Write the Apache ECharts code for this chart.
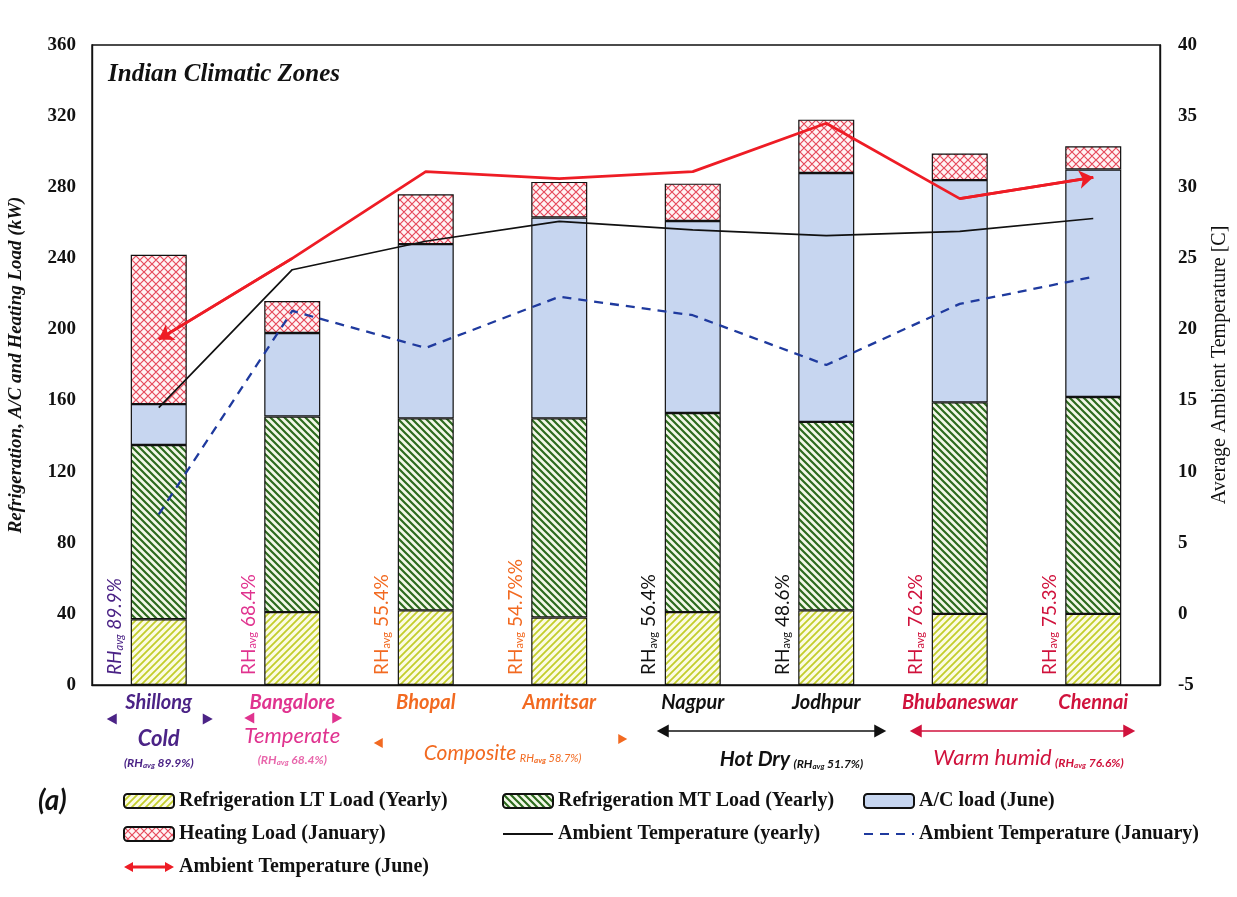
<!DOCTYPE html>
<html>
<head>
<meta charset="utf-8">
<title>Indian Climatic Zones – loads and ambient temperature</title>
<script src="https://cdn.jsdelivr.net/npm/echarts@6/dist/echarts.min.js"></script>
<style>
  html, body { margin: 0; padding: 0; background: #ffffff; }
  #chart { width: 1237px; height: 897px; }
</style>
</head>
<body>
<div id="chart"></div>
<script>
// ---- data ----
const cities = ['Shillong', 'Bangalore', 'Bhopal', 'Amritsar', 'Nagpur', 'Jodhpur', 'Bhubaneswar', 'Chennai'];
const cityColors = ['#4b2386', '#e0338f', '#f26a21', '#f26a21', '#111111', '#111111', '#d0123c', '#d0123c'];

// loads in kW (stacked)
const ltLoad = [37, 41, 42, 38, 41, 42, 40, 40];
const mtLoad = [98, 110, 108, 112, 112, 106, 119, 122];
const acLoad = [23, 47, 98, 113, 108, 140, 125, 128];
const heatLoad = [84, 18, 28, 20, 21, 30, 15, 13];

// average ambient temperature, °C
const tempJune = [19.3, 25.0, 31.1, 30.6, 31.1, 34.5, 29.2, 30.7];
const tempYearly = [14.5, 24.2, 26.2, 27.6, 27.0, 26.6, 26.9, 27.8];
const tempJanuary = [7.0, 21.3, 18.7, 22.3, 21.0, 17.5, 21.8, 23.7];

// relative humidity text per city
const cityRH = ['89.9%', '68.4%', '55.4%', '54.7%%', '56.4%', '48.6%', '76.2%', '75.3%'];
const cityRHItalic = [true, false, false, false, false, false, false, false];

// climatic zones: first/last city index, average RH
const zoneNames = ['Cold', 'Temperate', 'Composite', 'Hot Dry', 'Warm humid'];
const zoneRH = ['89.9%', '68.4%', '58.7%', '51.7%', '76.6%'];
const zoneFirst = [0, 1, 2, 4, 6];
const zoneLast = [0, 1, 3, 5, 7];
const zoneColors = ['#4b2386', '#e0338f', '#f26a21', '#111111', '#d0123c'];

// axis ranges
const loadAxis = { min: 0, max: 360, step: 40 };
const tempAxis = { min: -5, max: 40, step: 5 };

// series names
const S_LT = 'Refrigeration LT Load (Yearly)';
const S_MT = 'Refrigeration MT Load (Yearly)';
const S_AC = 'A/C load (June)';
const S_HEAT = 'Heating Load (January)';
const S_JUNE = 'Ambient Temperature (June)';
const S_YEAR = 'Ambient Temperature (yearly)';
const S_JAN = 'Ambient Temperature (January)';

// ---- hatch fills ----
function hatch(bg, fg, width, size, dirs) {
  const c = document.createElement('canvas');
  c.width = c.height = size;
  const g = c.getContext('2d');
  g.fillStyle = bg;
  g.fillRect(0, 0, size, size);
  g.strokeStyle = fg;
  g.lineWidth = width;
  g.beginPath();
  dirs.forEach(function (d) {
    if (d === '/') {
      g.moveTo(-1, size + 1); g.lineTo(size + 1, -1);
      g.moveTo(-size / 2 - 1, size / 2 + 1); g.lineTo(size / 2 + 1, -size / 2 - 1);
      g.moveTo(size / 2 - 1, size * 1.5 + 1); g.lineTo(size * 1.5 + 1, size / 2 - 1);
    } else {
      g.moveTo(-1, -1); g.lineTo(size + 1, size + 1);
      g.moveTo(-size / 2 - 1, size / 2 - 1); g.lineTo(size / 2 + 1, size * 1.5 + 1);
      g.moveTo(size / 2 - 1, -size / 2 - 1); g.lineTo(size * 1.5 + 1, size / 2 + 1);
    }
  });
  g.stroke();
  return { image: c, repeat: 'repeat' };
}
const ltFill = hatch('#fbfbe4', '#c3cd2c', 1.8, 7, ['/']);
const mtFill = hatch('#f3f8e8', '#2d6a1e', 2.2, 7, ['\\']);
const heatFill = hatch('#fff4f5', '#e64a5c', 1.2, 8, ['/', '\\']);
const acFill = '#c7d6f0';

const serif = '"Liberation Serif", "DejaVu Serif", serif';
const sans = 'Lato, "Open Sans", sans-serif';

const barBorder = { borderColor: '#111111', borderWidth: 1.2 };
const BAR_W = 56;

function barSeries(name, data, fill) {
  return {
    name: name, type: 'bar', stack: 'load', data: data, barWidth: BAR_W,
    itemStyle: Object.assign({ color: fill }, barBorder),
    emphasis: { disabled: true }, z: 2
  };
}

const chart = echarts.init(document.getElementById('chart'), null, { renderer: 'canvas' });

const legendText = { fontFamily: serif, fontWeight: 'bold', fontSize: 20, color: '#111111' };
const noSymbol = { opacity: 0 };
function legendBox(left, names) {
  return {
    orient: 'vertical', left: left, top: 786, itemGap: 13, itemWidth: 50, itemHeight: 14,
    selectedMode: false, textStyle: legendText, data: names
  };
}

// city name styles for the category labels
const cityRich = {};
cities.forEach(function (c, i) {
  cityRich['c' + i] = { color: cityColors[i], fontFamily: sans, fontStyle: 'italic', fontWeight: 'bold', fontSize: 20 };
});

const option = {
  backgroundColor: '#ffffff',
  animation: false,
  grid: {
    left: 92, right: 77, top: 45, bottom: 212, outerBoundsMode: 'none', containLabel: false,
    show: true, borderColor: '#111111', borderWidth: 1.4, backgroundColor: 'transparent'
  },
  legend: [
    legendBox(118, [S_LT, S_HEAT, { name: S_JUNE, icon: 'path://M0,5 L9,0 L9,3.6 L41,3.6 L41,0 L50,5 L41,10 L41,6.4 L9,6.4 L9,10 Z' }]),
    legendBox(497, [S_MT, { name: S_YEAR, itemStyle: noSymbol }]),
    legendBox(858, [S_AC, { name: S_JAN, itemStyle: noSymbol }])
  ],
  xAxis: {
    type: 'category', data: cities, boundaryGap: true,
    axisLine: { show: true, lineStyle: { color: '#111111', width: 1.4 } },
    axisTick: { show: false },
    splitLine: { show: false },
    axisLabel: {
      interval: 0, hideOverlap: false, margin: 8, rich: cityRich,
      formatter: function (value) { return '{c' + cities.indexOf(value) + '|' + value + '}'; }
    }
  },
  yAxis: [
    {
      type: 'value', position: 'left', min: loadAxis.min, max: loadAxis.max, interval: loadAxis.step,
      name: 'Refrigeration, A/C and Heating Load (kW)', nameLocation: 'middle', nameGap: 66, nameRotate: 90,
      nameTextStyle: { fontFamily: serif, fontWeight: 'bold', fontStyle: 'italic', fontSize: 19, color: '#111111' },
      axisLine: { show: true, lineStyle: { color: '#111111', width: 1.4 } },
      axisTick: { show: false }, splitLine: { show: false },
      axisLabel: { margin: 16, fontFamily: serif, fontWeight: 'bold', fontSize: 19, color: '#111111' }
    },
    {
      type: 'value', position: 'right', min: tempAxis.min, max: tempAxis.max, interval: tempAxis.step,
      name: 'Average Ambient Temperature [C]', nameLocation: 'middle', nameGap: 50, nameRotate: 90,
      nameTextStyle: { fontFamily: serif, fontSize: 20, color: '#111111' },
      axisLine: { show: true, lineStyle: { color: '#111111', width: 1.4 } },
      axisTick: { show: false }, splitLine: { show: false },
      axisLabel: { margin: 18, fontFamily: serif, fontWeight: 'bold', fontSize: 19, color: '#111111' }
    }
  ],
  series: [
    barSeries(S_LT, ltLoad, ltFill),
    barSeries(S_MT, mtLoad, mtFill),
    barSeries(S_AC, acLoad, acFill),
    barSeries(S_HEAT, heatLoad, heatFill),
    {
      name: S_JUNE, type: 'line', yAxisIndex: 1, data: tempJune, symbol: 'none',
      color: '#ee1c25', lineStyle: { color: '#ee1c25', width: 2.8 }, z: 5, emphasis: { disabled: true }
    },
    {
      name: S_YEAR, type: 'line', yAxisIndex: 1, data: tempYearly, symbol: 'none',
      color: '#111111', lineStyle: { color: '#111111', width: 1.7 }, z: 5, emphasis: { disabled: true }
    },
    {
      name: S_JAN, type: 'line', yAxisIndex: 1, data: tempJanuary, symbol: 'none',
      color: '#1f3a9e', lineStyle: { color: '#1f3a9e', width: 2.3, type: [9, 7] }, z: 5, emphasis: { disabled: true }
    },
    {
      // arrowheads on both ends of the June curve
      type: 'lines', coordinateSystem: 'cartesian2d', xAxisIndex: 0, yAxisIndex: 1,
      symbol: ['none', 'arrow'], symbolSize: 14, silent: true, z: 6,
      lineStyle: { color: '#ee1c25', width: 2.8, opacity: 1 },
      data: [
        { coords: [[1, tempJune[1]], [0, tempJune[0]]] },
        { coords: [[6, tempJune[6]], [7, tempJune[7]]] }
      ]
    }
  ]
};

chart.setOption(option);

// ---- annotations placed from the axes' own scales ----
const cx = cities.map(function (c, i) { return chart.convertToPixel({ xAxisIndex: 0 }, i); });
const base = chart.convertToPixel({ yAxisIndex: 0 }, 0);
const plotTop = chart.convertToPixel({ yAxisIndex: 0 }, loadAxis.max);
const gridLeft = chart.convertToPixel({ xAxisIndex: 0 }, 0) - (cx[1] - cx[0]) / 2;

const graphics = [];

// chart caption inside the plot area
graphics.push({
  type: 'text', x: gridLeft + 16, y: plotTop + 30, silent: true,
  style: { text: 'Indian Climatic Zones', font: 'italic bold 25px ' + serif, fill: '#111111', textAlign: 'left', textVerticalAlign: 'middle' }
});

// panel tag
graphics.push({
  type: 'text', x: 38, y: base + 116, silent: true,
  style: { text: '(a)', font: 'italic bold 28px ' + sans, fill: '#111111', textAlign: 'left', textVerticalAlign: 'middle' }
});

// vertical RH labels beside each bar
cities.forEach(function (c, i) {
  const style = cityRHItalic[i] ? 'italic ' : '';
  graphics.push({
    type: 'text', x: cx[i] - 45, y: base - 10, rotation: Math.PI / 2, silent: true,
    style: {
      text: '{m|RH}{s|avg}{m| ' + cityRH[i] + '}',
      textAlign: 'left', textVerticalAlign: 'middle',
      rich: {
        m: { font: style + '19px ' + sans, fill: cityColors[i], verticalAlign: 'bottom', lineHeight: 22 },
        s: { font: style + '11px ' + sans, fill: cityColors[i], verticalAlign: 'bottom', lineHeight: 15 }
      }
    }
  });
});

function tri(x, y, dir, size, color) {
  const pts = dir < 0
    ? [[x, y], [x + size, y - size * 0.55], [x + size, y + size * 0.55]]
    : [[x, y], [x - size, y - size * 0.55], [x - size, y + size * 0.55]];
  return { type: 'polygon', silent: true, shape: { points: pts }, style: { fill: color } };
}

function zoneText(x, y, k, bigFont, smallFont, wrap) {
  const small = wrap ? '(RH' : 'RH';
  return {
    type: 'text', x: x, y: y, silent: true,
    style: {
      text: '{b|' + zoneNames[k] + '} {s|' + small + '}{u|avg}{s| ' + zoneRH[k] + ')}',
      textAlign: 'center', textVerticalAlign: 'middle',
      rich: {
        b: { font: bigFont, fill: zoneColors[k], verticalAlign: 'bottom', lineHeight: 26 },
        s: { font: smallFont, fill: zoneColors[k], verticalAlign: 'bottom', lineHeight: 21 },
        u: { font: 'italic bold 8px ' + sans, fill: zoneColors[k], verticalAlign: 'bottom', lineHeight: 16 }
      }
    }
  };
}

function smallRH(x, y, k, alpha) {
  return {
    type: 'text', x: x, y: y, silent: true,
    style: {
      text: '{s|(RH}{u|avg}{s| ' + zoneRH[k] + ')}', textAlign: 'center', textVerticalAlign: 'middle', opacity: alpha,
      rich: {
        s: { font: 'italic bold 12px ' + sans, fill: zoneColors[k], verticalAlign: 'bottom', lineHeight: 17 },
        u: { font: 'italic bold 8px ' + sans, fill: zoneColors[k], verticalAlign: 'bottom', lineHeight: 14 }
      }
    }
  };
}

// Cold
(function () {
  const k = 0, a = cx[zoneFirst[k]], b = cx[zoneLast[k]];
  graphics.push(tri(a - 52, base + 34, -1, 10, zoneColors[k]));
  graphics.push(tri(b + 54, base + 34, 1, 10, zoneColors[k]));
  graphics.push({ type: 'text', x: (a + b) / 2, y: base + 54, silent: true,
    style: { text: zoneNames[k], font: 'italic bold 22px ' + sans, fill: zoneColors[k], textAlign: 'center', textVerticalAlign: 'middle' } });
  graphics.push(smallRH((a + b) / 2, base + 76, k, 1));
})();

// Temperate
(function () {
  const k = 1, a = cx[zoneFirst[k]], b = cx[zoneLast[k]];
  graphics.push(tri(a - 48, base + 33, -1, 10, zoneColors[k]));
  graphics.push(tri(b + 50, base + 33, 1, 10, zoneColors[k]));
  graphics.push({ type: 'text', x: (a + b) / 2, y: base + 51, silent: true,
    style: { text: zoneNames[k], font: 'italic 22px ' + sans, fill: zoneColors[k], textAlign: 'center', textVerticalAlign: 'middle' } });
  graphics.push(smallRH((a + b) / 2, base + 73, k, 0.75));
})();

// Composite
(function () {
  const k = 2, a = cx[zoneFirst[k]], b = cx[zoneLast[k]];
  graphics.push(tri(a - 52, base + 58, -1, 9, zoneColors[k]));
  graphics.push(tri(b + 68, base + 54, 1, 9, zoneColors[k]));
  graphics.push(zoneText((a + b) / 2 + 10, base + 66, k, 'italic 21px ' + sans, 'italic 11px ' + sans, false));
})();

// Hot Dry
(function () {
  const k = 3, a = cx[zoneFirst[k]] - 36, b = cx[zoneLast[k]] + 60, y = base + 46;
  graphics.push({ type: 'line', silent: true, shape: { x1: a + 8, y1: y, x2: b - 8, y2: y }, style: { stroke: zoneColors[k], lineWidth: 1.3 } });
  graphics.push(tri(a, y, -1, 12, zoneColors[k]));
  graphics.push(tri(b, y, 1, 12, zoneColors[k]));
  graphics.push(zoneText((cx[zoneFirst[k]] + cx[zoneLast[k]]) / 2 + 32, base + 72, k, 'italic bold 21px ' + sans, 'italic bold 12px ' + sans, true));
})();

// Warm humid
(function () {
  const k = 4, a = cx[zoneFirst[k]] - 50, b = cx[zoneLast[k]] + 42, y = base + 46;
  graphics.push({ type: 'line', silent: true, shape: { x1: a + 8, y1: y, x2: b - 8, y2: y }, style: { stroke: zoneColors[k], lineWidth: 1.3 } });
  graphics.push(tri(a, y, -1, 12, zoneColors[k]));
  graphics.push(tri(b, y, 1, 12, zoneColors[k]));
  graphics.push(zoneText((cx[zoneFirst[k]] + cx[zoneLast[k]]) / 2 + 2, base + 71, k, 'italic 22px ' + sans, 'italic bold 12px ' + sans, true));
})();

chart.setOption({ graphic: graphics });
</script>
</body>
</html>
